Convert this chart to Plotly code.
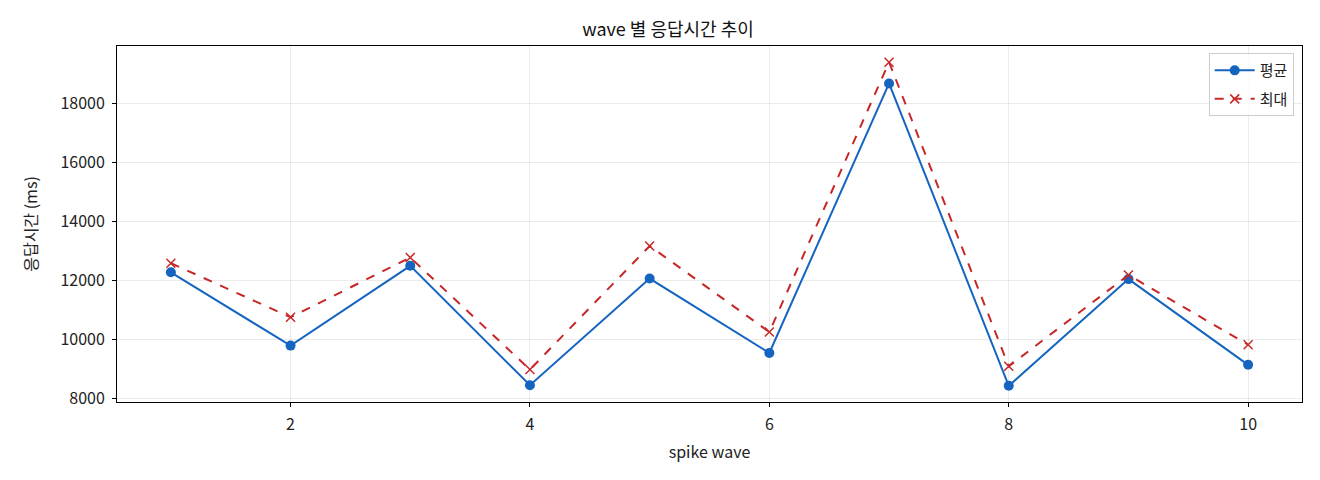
import plotly.graph_objects as go

# wave 별 응답시간 (ms)
waves = [1, 2, 3, 4, 5, 6, 7, 8, 9, 10]
avg_ms = [12280, 9800, 12500, 8460, 12070, 9550, 18670, 8440, 12050, 9150]
max_ms = [12590, 10760, 12780, 8990, 13170, 10260, 19390, 9100, 12190, 9830]
y_ticks = [8000, 10000, 12000, 14000, 16000, 18000]

FONT = "Noto Sans CJK KR"
BLUE = "#1565C0"
RED = "#C62828"

# matplotlib 기본 여백(5%) 흉내
lo = min(avg_ms + max_ms)
hi = max(avg_ms + max_ms)
pad = (hi - lo) * 0.05
xpad = (max(waves) - min(waves)) * 0.05

fig = go.Figure()
fig.add_trace(go.Scatter(
    x=waves, y=avg_ms, name="평균", mode="lines+markers", legendgroup="a",
    line=dict(color=BLUE, width=2),
    marker=dict(symbol="circle", size=10, color=BLUE),
))
fig.add_trace(go.Scatter(
    x=waves, y=max_ms, name="최대", mode="lines+markers", legendgroup="b",
    line=dict(color=RED, width=2, dash="dash"),
    marker=dict(symbol="x-thin-open", size=9, color=RED, line=dict(color=RED, width=1.5)),
))

axis_common = dict(
    showline=True, linecolor="black", linewidth=1, mirror=True,
    ticks="outside", ticklen=4, tickcolor="black", ticklabelstandoff=4,
    showgrid=True, gridcolor="rgba(0,0,0,0.08)", gridwidth=1,
    zeroline=False, tickfont=dict(family=FONT, size=16, color="#222"),
)

fig.update_xaxes(
    range=[min(waves) - xpad, max(waves) + xpad],
    tickvals=[2, 4, 6, 8, 10],
    title=dict(text="spike wave", font=dict(family=FONT, size=16, color="#222"), standoff=12),
    **axis_common,
)
fig.update_yaxes(
    range=[lo - pad, hi + pad],
    tickvals=y_ticks,
    tickformat="d",
    title=dict(text="응답시간 (ms)", font=dict(family=FONT, size=16, color="#222"), standoff=18),
    **axis_common,
)

fig.update_layout(
    width=1320, height=480,
    margin=dict(l=109, r=26, t=38, b=86),
    plot_bgcolor="white", paper_bgcolor="white",
    title=dict(text="wave 별 응답시간 추이", x=0.5, xanchor="center", y=0.955, yanchor="middle",
               font=dict(family=FONT, size=18, color="#111")),
    legend=dict(x=0.993, xanchor="right", y=0.98, yanchor="top", tracegroupgap=6,
                itemwidth=40,
                bordercolor="#cccccc", borderwidth=1, bgcolor="rgba(255,255,255,0.8)",
                font=dict(family=FONT, size=15, color="#222")),
    showlegend=True,
)

fig.write_html("out.html")
